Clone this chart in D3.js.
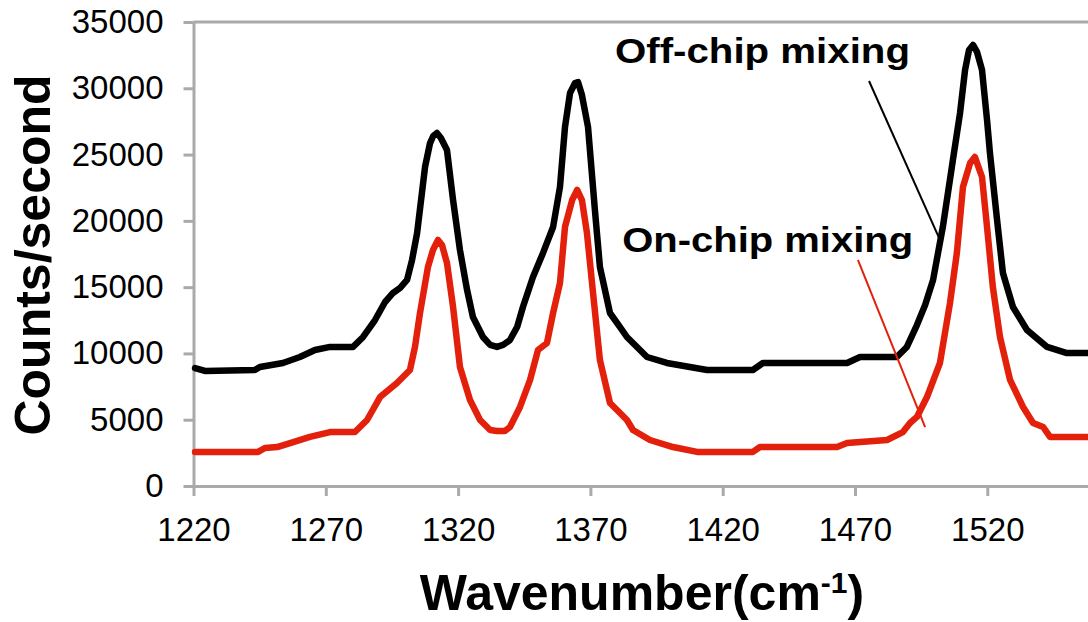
<!DOCTYPE html>
<meta charset="utf-8">
<style>
body { margin: 0; background: #fff; }
svg { display: block; font-family: "Liberation Sans", Arial, Helvetica, sans-serif; }
.axis path, .axis line { stroke: #aaaaaa; stroke-width: 3; }
.axis text { font-size: 33px; fill: #000; }
.title { font-size: 50px; font-weight: bold; }
.note { font-size: 35px; font-weight: bold; }
</style>
<body>
  <script src="https://cdn.jsdelivr.net/npm/d3@7"></script>
  <script>

    // spectra (wavenumber, counts/second)
    var offChipX = [1220.6, 1224.3, 1243.2, 1245.1, 1253.8, 1260.2, 1265.9, 1271.6, 1280.3, 1284.1,
                    1288.6, 1292.4, 1295.4, 1298.1, 1300.7, 1302.6, 1304.5, 1306.0, 1307.5, 1309.4,
                    1310.6, 1312.0, 1313.5, 1315.8, 1318.1, 1320.7, 1323.4, 1325.6, 1329.4, 1332.1,
                    1334.7, 1337.0, 1339.6, 1342.3, 1344.5, 1348.3, 1352.1, 1355.9, 1358.5, 1360.4,
                    1362.3, 1364.2, 1365.3, 1366.8, 1369.1, 1371.7, 1373.6, 1377.4, 1381.2, 1383.8,
                    1391.4, 1398.9, 1407.6, 1414.1, 1431.4, 1435.2, 1467.0, 1471.9, 1485.8, 1489.6,
                    1493.4, 1496.5, 1499.5, 1503.2, 1507.0, 1509.7, 1511.6, 1513.1, 1514.6, 1516.1,
                    1518.0, 1519.9, 1521.0, 1523.7, 1525.9, 1529.7, 1535.0, 1542.6, 1550.1, 1558.0];
    var offChipY = [8900, 8680, 8750, 8980, 9280, 9730, 10260, 10490, 10490, 11240,
                    12520, 13880, 14560, 14940, 15540, 17050, 19080, 21570, 24060, 25870,
                    26400, 26630, 26250, 25340, 21570, 17800, 14780, 12750, 11240, 10640,
                    10490, 10640, 11010, 11990, 13500, 15770, 17580, 19540, 22550, 27080,
                    29640, 30400, 30470, 29490, 27080, 20820, 16520, 13050, 11990, 11240,
                    9730, 9280, 8980, 8750, 8750, 9280, 9280, 9730, 9730, 10490,
                    12140, 13650, 15540, 19540, 24590, 28140, 31380, 32890, 33270, 32740,
                    31380, 27610, 25120, 20060, 16070, 13500, 11770, 10490, 10030, 10030];

    var onChipX = [1220.6, 1244.4, 1247.0, 1251.6, 1256.5, 1264.0, 1271.6, 1281.0, 1285.6, 1290.5,
                   1296.9, 1301.8, 1303.7, 1305.6, 1308.6, 1310.5, 1312.4, 1313.9, 1315.8, 1318.1,
                   1320.7, 1324.5, 1328.3, 1332.1, 1334.7, 1337.7, 1339.6, 1343.4, 1347.2, 1350.2,
                   1353.6, 1355.9, 1358.5, 1360.4, 1363.1, 1365.0, 1366.8, 1368.7, 1371.0, 1373.6,
                   1377.4, 1381.2, 1383.8, 1386.1, 1392.5, 1401.2, 1410.3, 1431.4, 1434.1, 1463.2,
                   1467.0, 1482.1, 1488.1, 1490.8, 1493.4, 1497.2, 1502.1, 1505.9, 1508.5, 1510.8,
                   1513.5, 1515.3, 1518.0, 1519.9, 1522.1, 1524.8, 1528.6, 1533.5, 1537.3, 1541.1,
                   1543.7, 1546.4, 1558.0];
    var onChipY = [2570, 2570, 2870, 2940, 3240, 3700, 4070, 4070, 4980, 6710,
                   7770, 8750, 10490, 13050, 16520, 17800, 18560, 18180, 16820, 13500,
                   8980, 6490, 4980, 4220, 4150, 4150, 4450, 5960, 8000, 10260,
                   10790, 13050, 15310, 19540, 21570, 22330, 21570, 19080, 14560, 9500,
                   6260, 5510, 4980, 4220, 3470, 2940, 2570, 2570, 2940, 2940,
                   3240, 3470, 4070, 4750, 5210, 6710, 9280, 13800, 17580, 22550,
                   24360, 24820, 23310, 19540, 15010, 11240, 8000, 5960, 4750, 4450,
                   3700, 3700, 3700];

    var xTicks = [1220, 1270, 1320, 1370, 1420, 1470, 1520];
    var yTicks = [0, 5000, 10000, 15000, 20000, 25000, 30000, 35000];

    // annotation labels and their leader lines, in data units
    var notes = [
      { text: "Off-chip mixing", x: 1379.3, y: 31900, len: 295,
        from: [1475.3, 30550], to: [1502.1, 18560], color: "#000" },
      { text: "On-chip mixing", x: 1382.0, y: 17650, len: 291,
        from: [1471.1, 17050], to: [1496.5, 4450], color: "#e3200b" }
    ];

    var width = 1088,
        height = 622;

    var svg = d3.select("body").append("svg")
        .attr("width", width)
        .attr("height", height);

    var x = d3.scaleLinear().domain([1220, 1570]).range([193.5, 1119.6]);
    var y = d3.scaleLinear().domain([0, 35000]).range([486, 22]);

    // top frame line
    svg.append("line")
        .attr("x1", x(1220)).attr("x2", x(1570))
        .attr("y1", y(35000)).attr("y2", y(35000))
        .attr("stroke", "#aaaaaa").attr("stroke-width", 3);

    svg.append("g")
        .attr("class", "axis")
        .attr("transform", "translate(0," + y(0) + ")")
        .call(d3.axisBottom(x).tickValues(xTicks).tickSize(10).tickPadding(22)
          .tickSizeOuter(0).tickFormat(d3.format("d")));

    svg.append("g")
        .attr("class", "axis")
        .attr("transform", "translate(" + x(1220) + ",0)")
        .call(d3.axisLeft(y).tickValues(yTicks).tickSize(10).tickPadding(20)
          .tickSizeOuter(0).tickFormat(d3.format("d")));

    var line = d3.line()
        .x(function(d) { return x(d[0]); })
        .y(function(d) { return y(d[1]); });

    var series = [
      { xs: offChipX, ys: offChipY, color: "#000" },
      { xs: onChipX, ys: onChipY, color: "#e3200b" }
    ];

    svg.selectAll(".spectrum")
        .data(series)
      .enter().append("path")
        .attr("class", "spectrum")
        .attr("fill", "none")
        .attr("stroke", function(d) { return d.color; })
        .attr("stroke-width", 6.5)
        .attr("stroke-linejoin", "round")
        .attr("stroke-linecap", "round")
        .attr("d", function(d) { return line(d.xs.map(function(v, i) { return [v, d.ys[i]]; })); });

    // labels + leaders
    svg.selectAll(".leader")
        .data(notes)
      .enter().append("line")
        .attr("class", "leader")
        .attr("x1", function(d) { return x(d.from[0]); })
        .attr("y1", function(d) { return y(d.from[1]); })
        .attr("x2", function(d) { return x(d.to[0]); })
        .attr("y2", function(d) { return y(d.to[1]); })
        .attr("stroke", function(d) { return d.color; })
        .attr("stroke-width", 2);

    svg.selectAll(".note")
        .data(notes)
      .enter().append("text")
        .attr("class", "note")
        .attr("x", function(d) { return x(d.x); })
        .attr("y", function(d) { return y(d.y); })
        .attr("textLength", function(d) { return d.len; })
        .attr("lengthAdjust", "spacingAndGlyphs")
        .text(function(d) { return d.text; });

    // axis titles
    svg.append("text")
        .attr("class", "title")
        .attr("transform", "translate(50,255) rotate(-90)")
        .attr("text-anchor", "middle")
        .text("Counts/second");

    var xt = svg.append("text")
        .attr("class", "title")
        .attr("x", 642)
        .attr("y", 610)
        .attr("text-anchor", "middle");
    xt.append("tspan").text("Wavenumber(cm");
    xt.append("tspan").attr("dy", -17).style("font-size", "30px").text("-1");
    xt.append("tspan").attr("dy", 17).text(")");
  </script>
</body>
